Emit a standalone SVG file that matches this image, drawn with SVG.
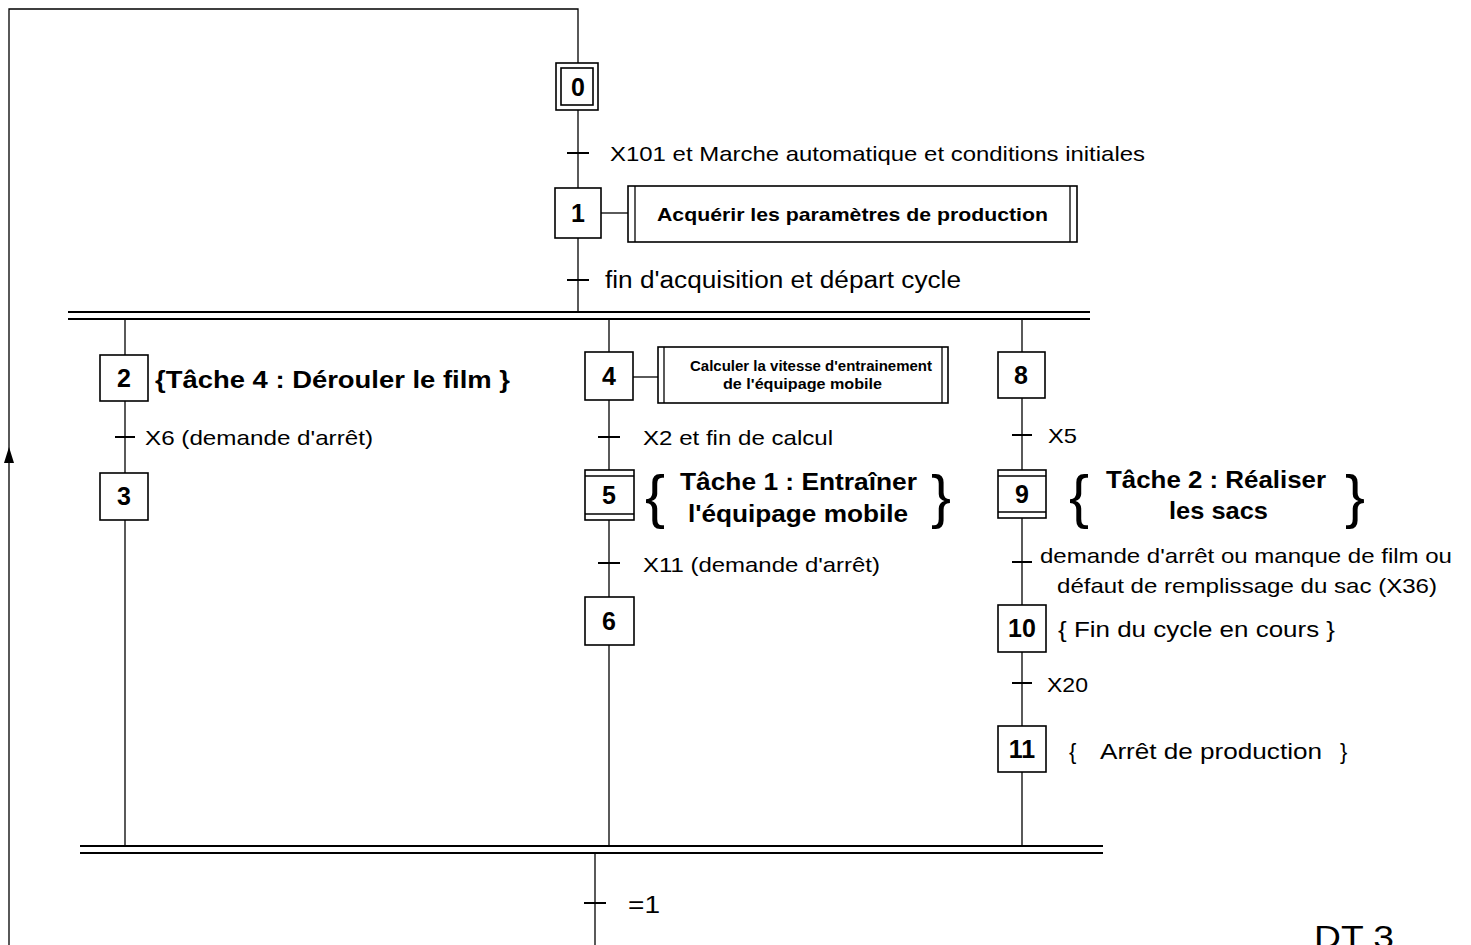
<svg xmlns="http://www.w3.org/2000/svg" width="1471" height="945" viewBox="0 0 1471 945">
<defs>
<style>
.ln{stroke:#000;stroke-width:1.3;fill:none}
.bar{stroke:#000;stroke-width:2;fill:none}
.box{stroke:#000;stroke-width:1.6;fill:#fff}
.num{font-family:"Liberation Sans",Arial,sans-serif;font-weight:bold;font-size:25px;text-anchor:middle}
.t{font-family:"Liberation Sans",Arial,sans-serif;font-size:21px}
.tb{font-family:"Liberation Sans",Arial,sans-serif;font-size:24px;font-weight:bold}
.act{font-family:"Liberation Sans",Arial,sans-serif;font-size:19px;font-weight:bold}
.acts{font-family:"Liberation Sans",Arial,sans-serif;font-size:14px;font-weight:bold}
.br{font-family:"Liberation Sans",Arial,sans-serif;font-size:60px;font-weight:normal}
</style>
</defs>
<rect width="1471" height="945" fill="#fff"/>

<g id="connectors">
<polyline class="ln" points="578,63 578,9 9,9 9,945"/>
<path d="M4,463 L9,447 L14,463 Z" fill="#000"/>
<line class="ln" x1="578" y1="110" x2="578" y2="188"/>
<line class="ln" x1="578" y1="238" x2="578" y2="312"/>
<line class="bar" x1="68" y1="312" x2="1090" y2="312"/>
<line class="bar" x1="68" y1="319" x2="1090" y2="319"/>
<line class="ln" x1="125" y1="319" x2="125" y2="355"/>
<line class="ln" x1="125" y1="401" x2="125" y2="473"/>
<line class="ln" x1="125" y1="520" x2="125" y2="846"/>
<line class="ln" x1="609" y1="319" x2="609" y2="352"/>
<line class="ln" x1="609" y1="400" x2="609" y2="470"/>
<line class="ln" x1="609" y1="520" x2="609" y2="597"/>
<line class="ln" x1="609" y1="645" x2="609" y2="846"/>
<line class="ln" x1="1022" y1="319" x2="1022" y2="352"/>
<line class="ln" x1="1022" y1="398" x2="1022" y2="470"/>
<line class="ln" x1="1022" y1="518" x2="1022" y2="605"/>
<line class="ln" x1="1022" y1="652" x2="1022" y2="726"/>
<line class="ln" x1="1022" y1="772" x2="1022" y2="846"/>
<line class="bar" x1="80" y1="846" x2="1103" y2="846"/>
<line class="bar" x1="80" y1="853" x2="1103" y2="853"/>
<line class="ln" x1="595" y1="853" x2="595" y2="945"/>
<line class="ln" x1="601" y1="213" x2="628" y2="213"/>
<line class="ln" x1="633" y1="377" x2="658" y2="377"/>
<line class="bar" x1="567" y1="153" x2="589" y2="153"/>
<line class="bar" x1="567" y1="280" x2="589" y2="280"/>
<line class="bar" x1="115" y1="437" x2="135" y2="437"/>
<line class="bar" x1="598" y1="437" x2="620" y2="437"/>
<line class="bar" x1="598" y1="563" x2="620" y2="563"/>
<line class="bar" x1="1012" y1="435" x2="1032" y2="435"/>
<line class="bar" x1="1012" y1="562" x2="1032" y2="562"/>
<line class="bar" x1="1012" y1="683" x2="1032" y2="683"/>
<line class="bar" x1="584" y1="903" x2="606" y2="903"/>
</g>

<g id="transition-labels">
<text class="t" x="610" y="161" textLength="535" lengthAdjust="spacingAndGlyphs">X101 et Marche automatique et conditions initiales</text>
<text class="t" x="605" y="288" style="font-size:23px" textLength="356" lengthAdjust="spacingAndGlyphs">fin d'acquisition et départ cycle</text>
<text class="t" x="145" y="445" textLength="228" lengthAdjust="spacingAndGlyphs">X6 (demande d'arrêt)</text>
<text class="t" x="643" y="445" textLength="190" lengthAdjust="spacingAndGlyphs">X2 et fin de calcul</text>
<text class="t" x="643" y="572" textLength="237" lengthAdjust="spacingAndGlyphs">X11 (demande d'arrêt)</text>
<text class="t" x="1048" y="443" textLength="29" lengthAdjust="spacingAndGlyphs">X5</text>
<text class="t" x="1040" y="563" textLength="412" lengthAdjust="spacingAndGlyphs">demande d'arrêt ou manque de film ou</text>
<text class="t" x="1057" y="593" textLength="380" lengthAdjust="spacingAndGlyphs">défaut de remplissage du sac (X36)</text>
<text class="t" x="1047" y="692" textLength="41" lengthAdjust="spacingAndGlyphs">X20</text>
<text class="t" x="628" y="913" style="font-size:24px" textLength="32" lengthAdjust="spacingAndGlyphs">=1</text>
</g>

<g id="step0">
<rect class="box" x="556" y="63" width="42" height="47"/>
<rect class="box" x="561" y="68" width="32" height="37"/>
<text class="num" x="578" y="96">0</text>
</g>
<g id="step1">
<rect class="box" x="555" y="188" width="46" height="50"/>
<text class="num" x="578" y="222">1</text>
</g>
<g id="action1">
<rect class="box" x="628" y="186" width="449" height="56"/>
<line class="ln" x1="635" y1="186" x2="635" y2="242"/>
<line class="ln" x1="1070" y1="186" x2="1070" y2="242"/>
<text class="act" x="657" y="221" textLength="391" lengthAdjust="spacingAndGlyphs">Acquérir les paramètres de production</text>
</g>

<g id="step2">
<rect class="box" x="100" y="355" width="48" height="46"/>
<text class="num" x="124" y="387">2</text>
<text class="tb" x="155" y="388" textLength="355" lengthAdjust="spacingAndGlyphs">{Tâche 4 : Dérouler le film }</text>
</g>
<g id="step3">
<rect class="box" x="100" y="473" width="48" height="47"/>
<text class="num" x="124" y="505">3</text>
</g>

<g id="step4">
<rect class="box" x="585" y="352" width="48" height="48"/>
<text class="num" x="609" y="385">4</text>
</g>
<g id="action4">
<rect class="box" x="658" y="347" width="290" height="56"/>
<line class="ln" x1="664" y1="347" x2="664" y2="403"/>
<line class="ln" x1="942" y1="347" x2="942" y2="403"/>
<text class="acts" x="690" y="371" textLength="242" lengthAdjust="spacingAndGlyphs">Calculer la vitesse d'entrainement</text>
<text class="acts" x="723" y="389" textLength="159" lengthAdjust="spacingAndGlyphs">de l'équipage mobile</text>
</g>
<g id="step5">
<rect class="box" x="585" y="470" width="49" height="50"/>
<line class="ln" x1="585" y1="476" x2="634" y2="476"/>
<line class="ln" x1="585" y1="514" x2="634" y2="514"/>
<text class="num" x="609" y="504">5</text>
<text class="br" x="645" y="517">{</text>
<text class="br" x="931" y="517">}</text>
<text class="tb" x="680" y="490" textLength="237" lengthAdjust="spacingAndGlyphs">Tâche 1 : Entraîner</text>
<text class="tb" x="688" y="522" textLength="220" lengthAdjust="spacingAndGlyphs">l'équipage mobile</text>
</g>
<g id="step6">
<rect class="box" x="585" y="597" width="49" height="48"/>
<text class="num" x="609" y="630">6</text>
</g>

<g id="step8">
<rect class="box" x="998" y="352" width="47" height="46"/>
<text class="num" x="1021" y="384">8</text>
</g>
<g id="step9">
<rect class="box" x="998" y="470" width="48" height="48"/>
<line class="ln" x1="998" y1="476" x2="1046" y2="476"/>
<line class="ln" x1="998" y1="512" x2="1046" y2="512"/>
<text class="num" x="1022" y="503">9</text>
<text class="br" x="1069" y="517">{</text>
<text class="br" x="1345" y="517">}</text>
<text class="tb" x="1106" y="488" textLength="220" lengthAdjust="spacingAndGlyphs">Tâche 2 : Réaliser</text>
<text class="tb" x="1169" y="519" textLength="99" lengthAdjust="spacingAndGlyphs">les sacs</text>
</g>
<g id="step10">
<rect class="box" x="998" y="605" width="48" height="47"/>
<text class="num" x="1022" y="637">10</text>
<text class="t" x="1058" y="637" style="font-size:22px" textLength="277" lengthAdjust="spacingAndGlyphs">{ Fin du cycle en cours }</text>
</g>
<g id="step11">
<rect class="box" x="998" y="726" width="48" height="46"/>
<text class="num" x="1022" y="758">11</text>
<text class="t" x="1069" y="759" style="font-size:22px">{</text>
<text class="t" x="1100" y="759" style="font-size:22px" textLength="222" lengthAdjust="spacingAndGlyphs">Arrêt de production</text>
<text class="t" x="1340" y="759" style="font-size:22px">}</text>
</g>

<text x="1314" y="948" style="font-family:'Liberation Sans',sans-serif;font-size:31px" textLength="80" lengthAdjust="spacingAndGlyphs">DT 3</text>
</svg>
